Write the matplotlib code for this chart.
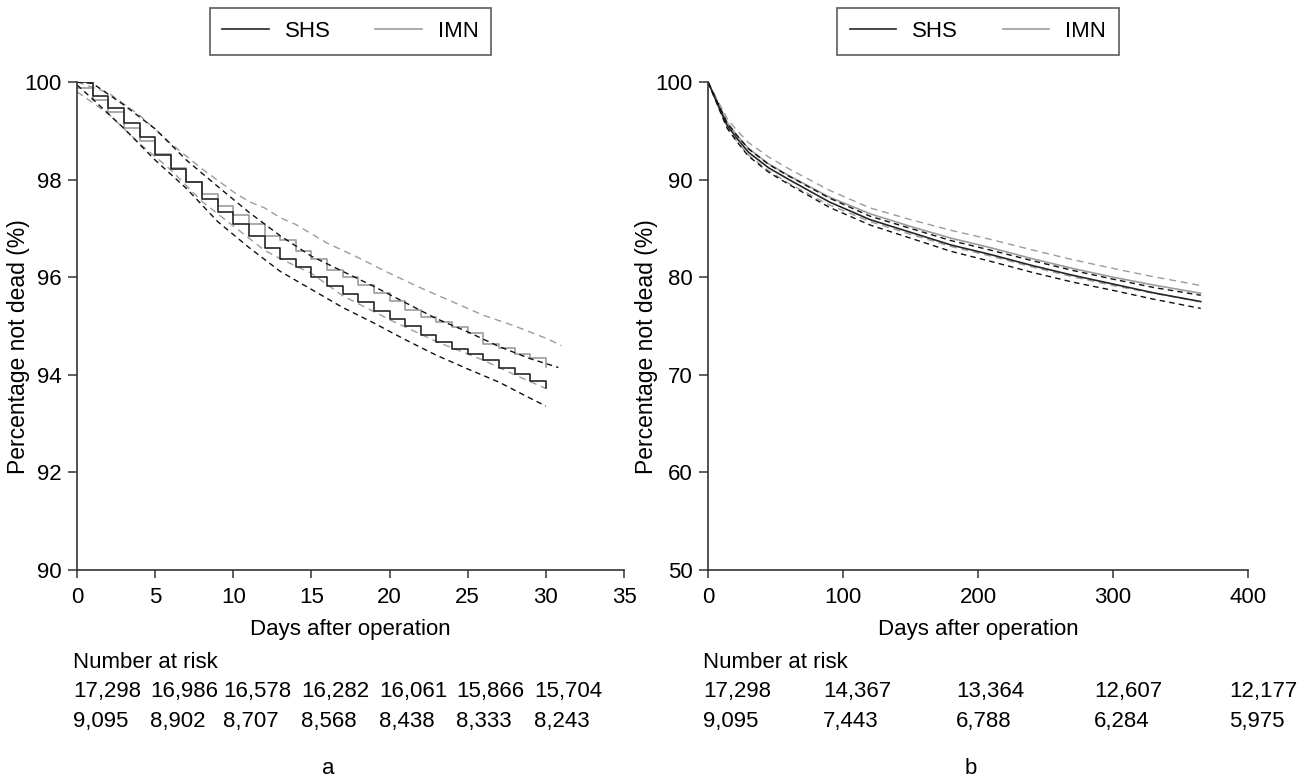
import matplotlib
matplotlib.use("Agg")
import matplotlib.pyplot as plt
from matplotlib.lines import Line2D

plt.rcParams['font.family'] = ['Liberation Sans', 'DejaVu Sans']
plt.rcParams['font.size'] = 16

# ---------------- data: panel a (30 days) ----------------
days_a = list(range(0, 31))
shs_a = [100, 99.72, 99.46, 99.17, 98.87, 98.50, 98.22, 97.96, 97.60, 97.34, 97.10,
         96.85, 96.60, 96.38, 96.21, 96.00, 95.82, 95.65, 95.49, 95.31, 95.14,
         95.00, 94.82, 94.68, 94.53, 94.42, 94.30, 94.13, 94.01, 93.87, 93.72]
imn_a = [99.88, 99.63, 99.39, 99.05, 98.79, 98.52, 98.24, 97.96, 97.70, 97.46, 97.27,
         97.10, 96.85, 96.76, 96.54, 96.37, 96.15, 96.00, 95.85, 95.68, 95.51,
         95.33, 95.18, 95.09, 94.97, 94.85, 94.64, 94.54, 94.43, 94.34, 94.17]

shs_hi_days_a = [0, 1, 3, 5, 7, 9, 11, 13, 15, 17, 19, 21, 23, 25, 27, 29, 30.8]
shs_hi_a = [100, 99.97, 99.53, 99.04, 98.40, 97.86, 97.33, 96.85, 96.43, 96.12, 95.81,
            95.48, 95.15, 94.88, 94.58, 94.33, 94.15]
shs_lo_days_a = [0, 1, 3, 5, 7, 9, 11, 13, 15, 17, 19, 21, 23, 25, 27, 29, 30]
shs_lo_a = [99.94, 99.65, 99.05, 98.40, 97.82, 97.14, 96.61, 96.12, 95.75, 95.38, 95.06,
            94.72, 94.40, 94.12, 93.85, 93.52, 93.36]
imn_hi_days_a = [0, 2, 4, 6, 8, 10, 11, 12, 13, 14, 16, 18, 20, 22, 24, 26, 28, 30, 31]
imn_hi_a = [100, 99.78, 99.32, 98.74, 98.22, 97.75, 97.55, 97.42, 97.22, 97.08, 96.70,
            96.40, 96.08, 95.78, 95.50, 95.22, 95.00, 94.75, 94.60]
imn_lo_days_a = [0, 2, 4, 6, 8, 10, 12, 13, 15, 17, 20, 23, 26, 28, 30]
imn_lo_a = [99.80, 99.35, 98.74, 98.20, 97.55, 97.05, 96.55, 96.38, 96.08, 95.62,
            95.13, 94.68, 94.30, 94.00, 93.72]

risk_shs_a = ["17,298", "16,986", "16,578", "16,282", "16,061", "15,866", "15,704"]
risk_imn_a = ["9,095", "8,902", "8,707", "8,568", "8,438", "8,333", "8,243"]

# ---------------- data: panel b (365 days) ----------------
days_b = [0, 14, 21, 30, 45, 60, 90, 120, 150, 180, 210, 240, 270, 300, 330, 365]
shs_b = [100, 95.6, 94.3, 92.8, 91.2, 90.0, 87.7, 85.9, 84.6, 83.3, 82.3, 81.2, 80.2,
         79.3, 78.4, 77.5]
imn_b = [100, 95.9, 94.6, 93.2, 91.6, 90.4, 88.2, 86.5, 85.2, 84.0, 83.0, 81.9, 80.9,
         80.0, 79.2, 78.35]
shs_hi_b = [100, 95.85, 94.6, 93.15, 91.55, 90.35, 88.1, 86.25, 85.0, 83.75, 82.75,
            81.7, 80.7, 79.8, 78.95, 78.15]
shs_lo_b = [100, 95.3, 93.95, 92.4, 90.75, 89.5, 87.15, 85.35, 84.0, 82.65, 81.6,
            80.5, 79.5, 78.65, 77.75, 76.8]
imn_hi_b = [100, 96.3, 95.1, 93.8, 92.3, 91.1, 88.9, 87.1, 85.9, 84.8, 83.85, 82.8,
            81.8, 80.9, 80.05, 79.15]
imn_lo_b = [100, 95.4, 94.0, 92.5, 90.9, 89.6, 87.4, 85.7, 84.4, 83.15, 82.15, 81.05,
            80.05, 79.15, 78.35, 77.5]

risk_shs_b = ["17,298", "14,367", "13,364", "12,607", "12,177"]
risk_imn_b = ["9,095", "7,443", "6,788", "6,284", "5,975"]

legend_labels = ["SHS", "IMN"]
panel_labels = ["a", "b"]
ylabel = "Percentage not dead (%)"
xlabel = "Days after operation"

# ---------------- styling / layout ----------------
W, H = 1304, 784
BLACK = "#262626"
GRAY = "#9c9c9c"
SPINE = "#333333"
FS = 16

fig = plt.figure(figsize=(W / 100, H / 100), dpi=100)

def fx(px):
    return px / W

def fy(py):
    return 1 - py / H

ax_a = fig.add_axes([fx(77), fy(570), fx(624) - fx(77), fy(82) - fy(570)])
ax_b = fig.add_axes([fx(708), fy(570), fx(1248) - fx(708), fy(82) - fy(570)])

lw = 1.0
# panel a
ax_a.plot(imn_hi_days_a, imn_hi_a, color=GRAY, lw=lw, dashes=(5, 3.5))
ax_a.plot(imn_lo_days_a, imn_lo_a, color=GRAY, lw=lw, dashes=(5, 3.5))
ax_a.step(days_a, imn_a, where='post', color=GRAY, lw=1.2)
ax_a.step(days_a, shs_a, where='post', color=BLACK, lw=1.2)
ax_a.plot(shs_hi_days_a, shs_hi_a, color="#111111", lw=lw, dashes=(4, 3))
ax_a.plot(shs_lo_days_a, shs_lo_a, color="#111111", lw=lw, dashes=(4, 3))
ax_a.set_xlim(0, 35)
ax_a.set_ylim(90, 100)
ax_a.set_xticks(range(0, 36, 5))
ax_a.set_yticks(range(90, 101, 2))

# panel b
ax_b.plot(days_b, imn_hi_b, color=GRAY, lw=lw, dashes=(5, 3.5))
ax_b.plot(days_b, imn_lo_b, color=GRAY, lw=lw, dashes=(5, 3.5))
ax_b.plot(days_b, imn_b, color=GRAY, lw=1.2)
ax_b.plot(days_b, shs_b, color=BLACK, lw=1.2)
ax_b.plot(days_b, shs_hi_b, color="#111111", lw=lw, dashes=(4, 3))
ax_b.plot(days_b, shs_lo_b, color="#111111", lw=lw, dashes=(4, 3))
ax_b.set_xlim(0, 400)
ax_b.set_ylim(50, 100)
ax_b.set_xticks(range(0, 401, 100))
ax_b.set_yticks(range(50, 101, 10))

for ax, ylx in ((ax_a, (19 - 77) / 547), (ax_b, (647 - 708) / 540)):
    for s in ("top", "right"):
        ax.spines[s].set_visible(False)
    for s in ("left", "bottom"):
        ax.spines[s].set_color(SPINE)
        ax.spines[s].set_linewidth(1.2)
    ax.tick_params(axis='x', length=5.5, width=1.1, color=SPINE, pad=7, labelsize=FS)
    ax.tick_params(axis='y', length=6.5, width=1.1, color=SPINE, pad=4.5, labelsize=FS)
    ax.set_ylabel(ylabel, fontsize=FS + 0.5, va='center')
    ax.yaxis.set_label_coords(ylx, (570 - 347) / 488)
    ax.set_xlabel(xlabel, fontsize=FS, va='center')
    ax.xaxis.set_label_coords(0.5, (570 - 630) / 488)
    handles = [Line2D([], [], color=BLACK, lw=1.2), Line2D([], [], color=GRAY, lw=1.2)]
    leg = ax.legend(handles, legend_labels, ncol=2, loc='center',
                    bbox_to_anchor=(0.5, (570 - 31.5) / 488), fontsize=FS,
                    frameon=True, fancybox=False, handlelength=2.1,
                    columnspacing=2.0, handletextpad=0.72, borderpad=0.57,
                    borderaxespad=0)
    leg.get_frame().set_edgecolor(SPINE)
    leg.get_frame().set_linewidth(1.2)

# number at risk tables
col_a = [73, 150, 223, 301, 379, 456, 534]
col_b = [703, 823, 956, 1094, 1229]
y_title, y_r1, y_r2 = 662, 692, 722
for x0 in (73, 703):
    fig.text(fx(x0), fy(y_title), "Number at risk", ha='left', va='center', fontsize=FS)
for xs, r1, r2 in ((col_a, risk_shs_a, risk_imn_a), (col_b, risk_shs_b, risk_imn_b)):
    for x, t1, t2 in zip(xs, r1, r2):
        fig.text(fx(x), fy(y_r1), t1, ha='left', va='center', fontsize=FS)
        fig.text(fx(x), fy(y_r2), t2, ha='left', va='center', fontsize=FS)

fig.text(fx(328), fy(768), panel_labels[0], ha='center', va='center', fontsize=FS)
fig.text(fx(971), fy(768), panel_labels[1], ha='center', va='center', fontsize=FS)

fig.savefig("out.png", dpi=100, facecolor='white')
